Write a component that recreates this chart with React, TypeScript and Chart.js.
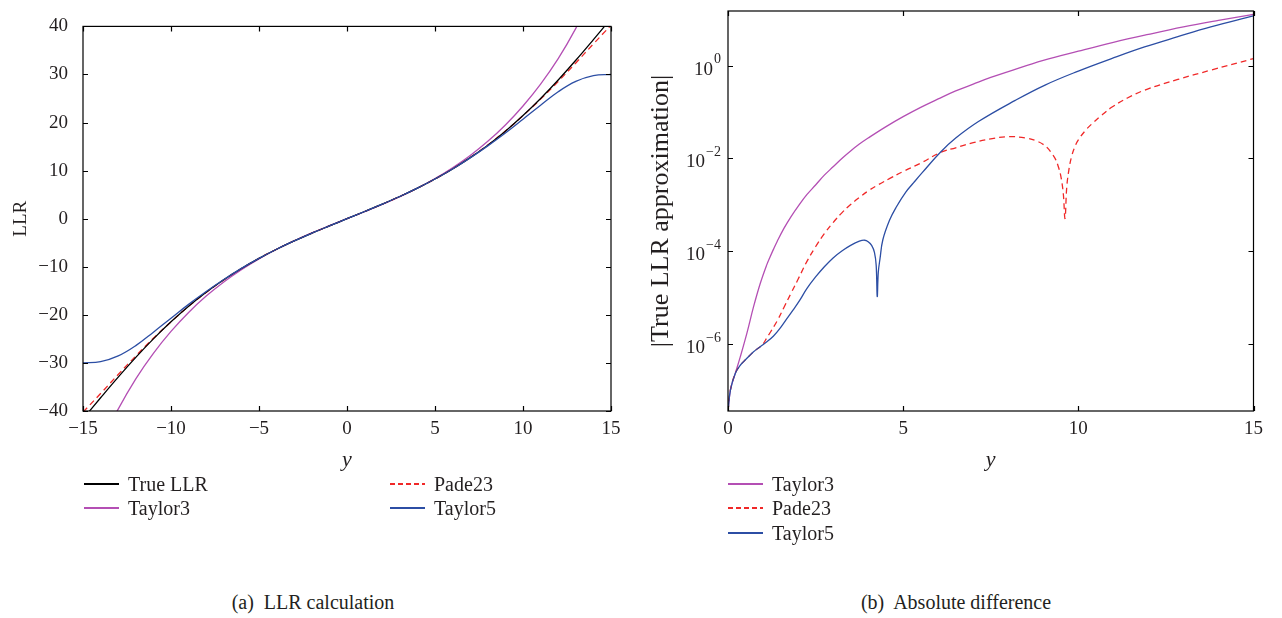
import React, { useEffect, useRef } from 'react';
import { Chart, registerables } from 'chart.js';

Chart.register(...registerables);

// ---------- Panel (a): LLR calculation ----------
const yGrid = [-15, -14, -13, -12, -11, -10, -9, -8, -7, -6, -5, -4, -3, -2, -1, 0, 1, 2, 3, 4, 5, 6, 7, 8, 9, 10, 11, 12, 13, 14, 15];
const trueLLR = [-41.65, -37.25, -32.95, -28.85, -25.0, -21.45, -18.2, -15.3, -12.7, -10.35, -8.25, -6.35, -4.62, -3.02, -1.5, 0, 1.5, 3.02, 4.62, 6.35, 8.25, 10.35, 12.7, 15.3, 18.2, 21.45, 25.0, 28.85, 32.95, 37.25, 41.65];
const taylor3LLR = [-55.2, -46.9, -39.6, -33.3, -28.0, -23.45, -19.5, -16.1, -13.15, -10.6, -8.35, -6.35, -4.58, -2.95, -1.45, 0, 1.45, 2.95, 4.58, 6.35, 8.35, 10.6, 13.15, 16.1, 19.5, 23.45, 28.0, 33.3, 39.6, 46.9, 55.2];
const pade23LLR = [-40.24, -36.36, -32.4, -28.55, -24.87, -21.45, -18.22, -15.33, -12.72, -10.36, -8.25, -6.35, -4.62, -3.02, -1.5, 0, 1.5, 3.02, 4.62, 6.35, 8.25, 10.36, 12.72, 15.33, 18.22, 21.45, 24.87, 28.55, 32.4, 36.36, 40.24];
const taylor5LLR = [-30.0, -29.75, -28.55, -26.4, -23.6, -20.69, -17.82, -15.15, -12.65, -10.34, -8.25, -6.35, -4.62, -3.02, -1.5, 0, 1.5, 3.02, 4.62, 6.35, 8.25, 10.34, 12.65, 15.15, 17.82, 20.69, 23.6, 26.4, 28.55, 29.75, 30.0];

// ---------- Panel (b): absolute difference ----------
const taylor3ErrY = [0, 0.07, 0.21, 0.35, 0.54, 0.73, 0.92, 1.1, 1.2, 1.3, 1.4, 1.6, 1.8, 2.0, 2.25, 2.5, 2.75, 3.0, 3.25, 3.5, 3.75, 4.0, 4.5, 5.0, 5.5, 6.0, 6.5, 7.0, 7.5, 8.0, 9.0, 10, 11, 12, 13, 14, 15];
const taylor3Err = [3.63e-8, 1.05e-7, 2.4e-7, 5.37e-7, 1.75e-6, 6.46e-6, 2.04e-5, 5.01e-5, 7.59e-5, 1.12e-4, 1.62e-4, 3.16e-4, 5.62e-4, 9.33e-4, 1.66e-3, 2.69e-3, 4.37e-3, 6.61e-3, 1.0e-2, 1.45e-2, 2.04e-2, 2.75e-2, 4.79e-2, 7.94e-2, 0.126, 0.191, 0.284, 0.398, 0.553, 0.741, 1.29, 2.04, 3.16, 4.68, 6.76, 9.33, 12.6];

const pade23ErrY = [0, 0.07, 0.21, 0.35, 0.54, 0.73, 0.92, 1.0, 1.1, 1.2, 1.4, 1.6, 1.8, 2.0, 2.25, 2.5, 2.75, 3.0, 3.25, 3.5, 3.75, 4.0, 4.3, 4.62, 5.0, 5.5, 6.07, 6.5, 7.0, 7.5, 8.0, 8.5, 8.86, 9.1, 9.24, 9.35, 9.43, 9.5, 9.57, 9.62, 9.67, 9.74, 9.81, 9.9, 10.0, 10.2, 10.38, 10.65, 10.95, 11.4, 11.89, 12.84, 13.78, 15];
const pade23Err = [3.63e-8, 1.05e-7, 2.4e-7, 3.55e-7, 5.01e-7, 6.92e-7, 8.91e-7, 1.02e-6, 1.35e-6, 1.78e-6, 3.16e-6, 6.31e-6, 1.26e-5, 2.51e-5, 6.03e-5, 1.26e-4, 2.4e-4, 4.17e-4, 6.76e-4, 1.02e-3, 1.45e-3, 2.0e-3, 2.75e-3, 3.72e-3, 5.25e-3, 7.94e-3, 1.35e-2, 1.7e-2, 2.19e-2, 2.63e-2, 2.95e-2, 2.75e-2, 2.29e-2, 1.74e-2, 1.29e-2, 9.55e-3, 6.61e-3, 4.17e-3, 1.78e-3, 5.13e-4, 2.45e-3, 6.31e-3, 1.12e-2, 1.78e-2, 2.51e-2, 3.98e-2, 5.5e-2, 8.32e-2, 0.126, 0.2, 0.295, 0.501, 0.794, 1.41];

const taylor5ErrY = [0, 0.07, 0.21, 0.35, 0.54, 0.73, 0.92, 1.1, 1.3, 1.5, 1.67, 1.85, 2.05, 2.25, 2.5, 2.75, 3.0, 3.25, 3.5, 3.75, 3.9, 4.0, 4.1, 4.18, 4.23, 4.26, 4.29, 4.34, 4.42, 4.61, 4.8, 5.08, 5.3, 5.55, 6.07, 6.5, 7.16, 8.2, 9.05, 10, 10.95, 11.89, 12.84, 13.78, 15];
const taylor5Err = [3.63e-8, 1.05e-7, 2.4e-7, 3.55e-7, 5.01e-7, 6.92e-7, 8.91e-7, 1.12e-6, 1.51e-6, 2.29e-6, 3.47e-6, 5.37e-6, 8.91e-6, 1.58e-5, 2.82e-5, 4.68e-5, 7.24e-5, 1.02e-4, 1.35e-4, 1.66e-4, 1.74e-4, 1.62e-4, 1.35e-4, 9.55e-5, 5.01e-5, 1.07e-5, 3.55e-5, 7.08e-5, 1.78e-4, 4.68e-4, 8.91e-4, 1.91e-3, 3.02e-3, 5.01e-3, 1.38e-2, 2.75e-2, 6.31e-2, 0.178, 0.38, 0.759, 1.41, 2.51, 4.17, 6.76, 11.7];

const logTickValues = [1e-6, 1e-4, 1e-2, 1];
const logTickExponents = ['\u22126', '\u22124', '\u22122', '0'];

const FONT = "'Liberation Serif', 'Times New Roman', serif";
const TEXT = '#231f20';
const C_TRUE = '#000000';
const C_T3 = '#b44fb4';
const C_PADE = '#f02828';
const C_T5 = '#2c4ea4';

const fmtMinus = (v: any) => (Number(v) < 0 ? '\u2212' + Math.abs(Number(v)) : String(v));

const framePlugin = {
  id: 'frameTicks',
  afterDraw(chart: any) {
    const { ctx, chartArea: a, scales } = chart;
    const xs = scales.x;
    const ys = scales.y;
    const L = 5;
    ctx.save();
    ctx.strokeStyle = '#000';
    ctx.lineWidth = 1.2;
    ctx.strokeRect(a.left, a.top, a.right - a.left, a.bottom - a.top);
    ctx.beginPath();
    xs.ticks.forEach((t: any) => {
      const px = Math.round(xs.getPixelForValue(t.value)) + 0.5;
      ctx.moveTo(px, a.bottom);
      ctx.lineTo(px, a.bottom - L);
      ctx.moveTo(px, a.top);
      ctx.lineTo(px, a.top + L);
    });
    ys.ticks.forEach((t: any) => {
      const py = Math.round(ys.getPixelForValue(t.value)) + 0.5;
      ctx.moveTo(a.left, py);
      ctx.lineTo(a.left + L, py);
      ctx.moveTo(a.right, py);
      ctx.lineTo(a.right - L, py);
    });
    ctx.stroke();
    ctx.restore();
  },
};

const logLabelPlugin = {
  id: 'logLabels',
  afterDraw(chart: any) {
    const { ctx, chartArea: a, scales } = chart;
    const ys = scales.y;
    ctx.save();
    ctx.fillStyle = TEXT;
    ctx.textBaseline = 'middle';
    ctx.textAlign = 'right';
    logTickValues.forEach((v, i) => {
      const py = ys.getPixelForValue(v);
      const xr = a.left - 7;
      ctx.font = `14px ${FONT}`;
      const ew = ctx.measureText(logTickExponents[i]).width;
      ctx.fillText(logTickExponents[i], xr, py - 6);
      ctx.font = `19px ${FONT}`;
      ctx.fillText('10', xr - ew - 1, py + 4);
    });
    ctx.restore();
  },
};

const lineDs = (label: string, xs: number[], vs: number[], color: string, dashed = false) => ({
  label,
  data: xs.map((x, i) => ({ x, y: vs[i] })),
  borderColor: color,
  backgroundColor: color,
  borderWidth: 1.3,
  borderDash: dashed ? [6, 4] : [],
  pointRadius: 0,
  fill: false,
  tension: 0.4,
  capBezierPoints: false,
});

const tickFont = { family: FONT, size: 19 };

function ChartCanvas({ makeConfig, left, top, width, height }: any) {
  const ref = useRef<HTMLCanvasElement>(null);
  useEffect(() => {
    const chart = new Chart(ref.current as HTMLCanvasElement, makeConfig());
    return () => chart.destroy();
  }, []);
  return (
    <div style={{ position: 'absolute', left, top, width, height }}>
      <canvas ref={ref} width={width} height={height} style={{ width, height, display: 'block' }} />
    </div>
  );
}

const makeLeftConfig = (): any => ({
  type: 'line',
  data: {
    datasets: [
      lineDs('Taylor5', yGrid, taylor5LLR, C_T5),
      lineDs('True LLR', yGrid, trueLLR, C_TRUE),
      lineDs('Pade23', yGrid, pade23LLR, C_PADE, true),
      lineDs('Taylor3', yGrid, taylor3LLR, C_T3),
    ],
  },
  options: {
    responsive: false,
    animation: false,
    devicePixelRatio: 1,
    layout: { padding: { top: 11, right: 19, bottom: 0, left: 0 } },
    plugins: { legend: { display: false }, tooltip: { enabled: false } },
    scales: {
      x: {
        type: 'linear',
        min: -15,
        max: 15,
        grid: { display: false, drawTicks: false },
        border: { display: false },
        ticks: { stepSize: 5, font: tickFont, color: TEXT, padding: 7, callback: fmtMinus, maxRotation: 0 },
        title: { display: true, text: 'y', font: { family: FONT, size: 22, style: 'italic' }, color: TEXT, padding: { top: 0, bottom: 7 } },
        afterFit: (s: any) => { s.height = 69; },
      },
      y: {
        type: 'linear',
        min: -40,
        max: 40,
        grid: { display: false, drawTicks: false },
        border: { display: false },
        ticks: { stepSize: 10, font: tickFont, color: TEXT, padding: 15, callback: fmtMinus },
        title: { display: true, text: 'LLR', font: { family: FONT, size: 19 }, color: TEXT, padding: { top: 10, bottom: 0 } },
        afterFit: (s: any) => { s.width = 83; },
      },
    },
  },
  plugins: [framePlugin],
});

const makeRightConfig = (): any => ({
  type: 'line',
  data: {
    datasets: [
      lineDs('Taylor5', taylor5ErrY, taylor5Err, C_T5),
      lineDs('Pade23', pade23ErrY, pade23Err, C_PADE, true),
      lineDs('Taylor3', taylor3ErrY, taylor3Err, C_T3),
    ],
  },
  options: {
    responsive: false,
    animation: false,
    devicePixelRatio: 1,
    layout: { padding: { top: 11, right: 14, bottom: 0, left: 0 } },
    plugins: { legend: { display: false }, tooltip: { enabled: false } },
    scales: {
      x: {
        type: 'linear',
        min: 0,
        max: 15,
        grid: { display: false, drawTicks: false },
        border: { display: false },
        ticks: { stepSize: 5, font: tickFont, color: TEXT, padding: 7, maxRotation: 0 },
        title: { display: true, text: 'y', font: { family: FONT, size: 22, style: 'italic' }, color: TEXT, padding: { top: 0, bottom: 7 } },
        afterFit: (s: any) => { s.height = 69; },
      },
      y: {
        type: 'logarithmic',
        min: 3.68e-8,
        max: 14.9,
        grid: { display: false, drawTicks: false },
        border: { display: false },
        ticks: { display: false },
        afterBuildTicks: (s: any) => { s.ticks = logTickValues.map((v) => ({ value: v })); },
        title: { display: true, text: '|True LLR approximation|', font: { family: FONT, size: 26 }, color: TEXT, padding: { top: 6, bottom: 0 } },
        afterFit: (s: any) => { s.width = 88; },
      },
    },
  },
  plugins: [framePlugin, logLabelPlugin],
});

function LegendItem({ x, y, color, dashed, label }: any) {
  return (
    <div style={{ position: 'absolute', left: x, top: y - 11, height: 22, display: 'flex', alignItems: 'center', whiteSpace: 'nowrap' }}>
      <svg width={35} height={4} style={{ marginRight: 9, display: 'block' }}>
        <line x1={0} y1={2} x2={35} y2={2} stroke={color} strokeWidth={2} strokeDasharray={dashed ? '5 3' : undefined} />
      </svg>
      <span>{label}</span>
    </div>
  );
}

export default function App() {
  const textStyle: React.CSSProperties = { fontFamily: FONT, fontSize: 20, color: TEXT, lineHeight: '22px' };
  return (
    <div style={{ position: 'absolute', left: 0, top: 0, width: 1282, height: 618, background: '#fff', overflow: 'hidden', ...textStyle }}>
      <ChartCanvas makeConfig={makeLeftConfig} left={0} top={0} width={630} height={480} />
      <ChartCanvas makeConfig={makeRightConfig} left={640} top={0} width={630} height={480} />

      <LegendItem x={84} y={484} color={C_TRUE} label="True LLR" />
      <LegendItem x={84} y={508} color={C_T3} label="Taylor3" />
      <LegendItem x={390} y={484} color={C_PADE} dashed label="Pade23" />
      <LegendItem x={390} y={508} color={C_T5} label="Taylor5" />

      <LegendItem x={728} y={484} color={C_T3} label="Taylor3" />
      <LegendItem x={728} y={508} color={C_PADE} dashed label="Pade23" />
      <LegendItem x={728} y={533} color={C_T5} label="Taylor5" />

      <div style={{ position: 'absolute', left: 113, width: 400, top: 591, textAlign: 'center', whiteSpace: 'pre' }}>(a)  LLR calculation</div>
      <div style={{ position: 'absolute', left: 756, width: 400, top: 591, textAlign: 'center', whiteSpace: 'pre' }}>(b)  Absolute difference</div>
    </div>
  );
}
